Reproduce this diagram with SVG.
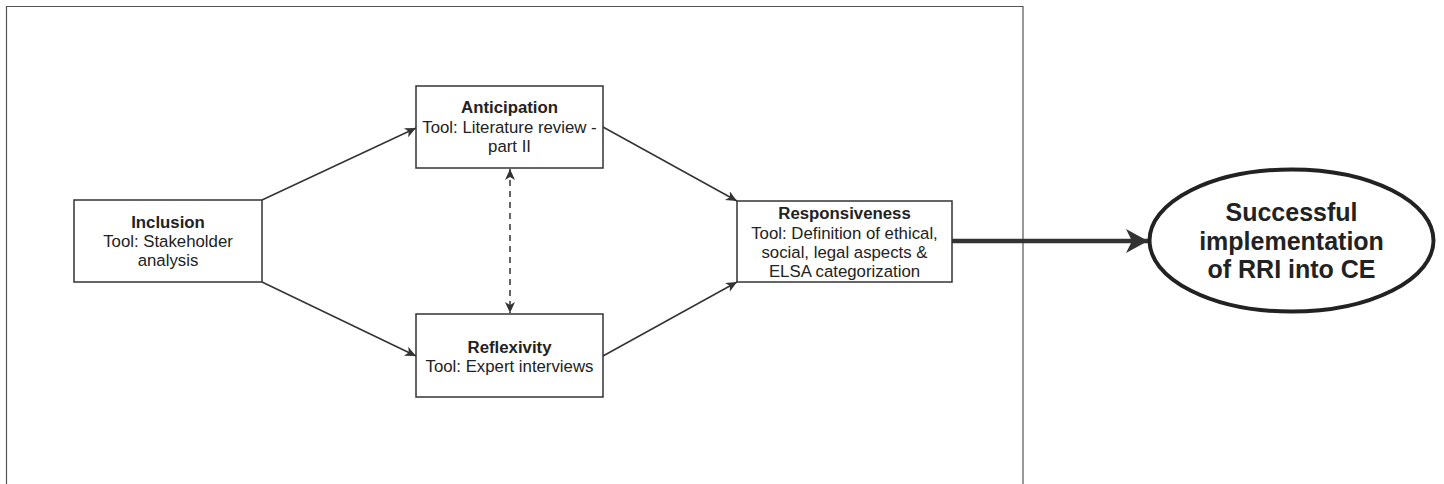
<svg xmlns="http://www.w3.org/2000/svg" width="1444" height="484" viewBox="0 0 1444 484">
  <style>
    .box { fill: #ffffff; stroke: #333333; stroke-width: 1.5; }
    .frame { fill: none; stroke: #555555; stroke-width: 1.2; }
    .edge { fill: none; stroke: #333333; stroke-width: 1.5; }
    .dash { stroke-dasharray: 6 5; }
    .thick { fill: none; stroke: #333333; stroke-width: 4.5; }
    text { font-family: "Liberation Sans", Arial, sans-serif; fill: #222222; text-anchor: middle; }
    .t { font-size: 16.8px; }
    .b { font-size: 16.8px; font-weight: bold; }
    .big { font-size: 25px; font-weight: bold; }
  </style>
  <defs>
    <marker id="arrow" markerUnits="userSpaceOnUse" markerWidth="14" markerHeight="12" refX="11" refY="5" orient="auto">
      <path d="M0,0 L11,5 L0,10 L3,5 Z" fill="#333333"/>
    </marker>
    <marker id="arrowStart" markerUnits="userSpaceOnUse" markerWidth="14" markerHeight="12" refX="0" refY="5" orient="auto">
      <path d="M11,0 L0,5 L11,10 L8,5 Z" fill="#333333"/>
    </marker>
    <marker id="arrowBig" markerUnits="userSpaceOnUse" markerWidth="26" markerHeight="26" refX="22" refY="12" orient="auto">
      <path d="M0,0 L22,12 L0,24 L6,12 Z" fill="#333333"/>
    </marker>
  </defs>

  <rect width="1444" height="484" fill="#ffffff"/>

  <!-- enclosing frame, open at the bottom -->
  <path class="frame" d="M6.5,490 L6.5,6.5 L1023,6.5 L1023,490"/>

  <g id="connectors">
    <line class="edge" x1="262" y1="200" x2="416" y2="128" marker-end="url(#arrow)"/>
    <line class="edge" x1="262" y1="282" x2="416" y2="356" marker-end="url(#arrow)"/>
    <line class="edge" x1="603" y1="127" x2="737" y2="201" marker-end="url(#arrow)"/>
    <line class="edge" x1="603" y1="356" x2="737" y2="282" marker-end="url(#arrow)"/>
    <line class="edge dash" x1="510" y1="169" x2="510" y2="313" marker-start="url(#arrowStart)" marker-end="url(#arrow)"/>
    <line class="thick" x1="952" y1="241" x2="1148" y2="241" marker-end="url(#arrowBig)"/>
  </g>

  <g id="inclusion">
    <rect class="box" x="74" y="200" width="188" height="82"/>
    <text class="b" x="168" y="228">Inclusion</text>
    <text class="t" x="168" y="247">Tool: Stakeholder</text>
    <text class="t" x="168" y="266">analysis</text>
  </g>

  <g id="anticipation">
    <rect class="box" x="416" y="86" width="187" height="82"/>
    <text class="b" x="509.5" y="113">Anticipation</text>
    <text class="t" x="509.5" y="133">Tool: Literature review -</text>
    <text class="t" x="509.5" y="152">part II</text>
  </g>

  <g id="reflexivity">
    <rect class="box" x="416" y="314" width="187" height="83"/>
    <text class="b" x="509.5" y="353">Reflexivity</text>
    <text class="t" x="509.5" y="372">Tool: Expert interviews</text>
  </g>

  <g id="responsiveness">
    <rect class="box" x="737" y="201" width="215" height="81"/>
    <text class="b" x="844.5" y="219">Responsiveness</text>
    <text class="t" x="844.5" y="239">Tool: Definition of ethical,</text>
    <text class="t" x="844.5" y="258">social, legal aspects &amp;</text>
    <text class="t" x="844.5" y="277">ELSA categorization</text>
  </g>

  <g id="outcome">
    <ellipse cx="1291.5" cy="240.5" rx="142" ry="71" fill="#ffffff" stroke="#222222" stroke-width="4"/>
    <text class="big" x="1291.5" y="221">Successful</text>
    <text class="big" x="1291.5" y="249.5">implementation</text>
    <text class="big" x="1291.5" y="278">of RRI into CE</text>
  </g>
</svg>
